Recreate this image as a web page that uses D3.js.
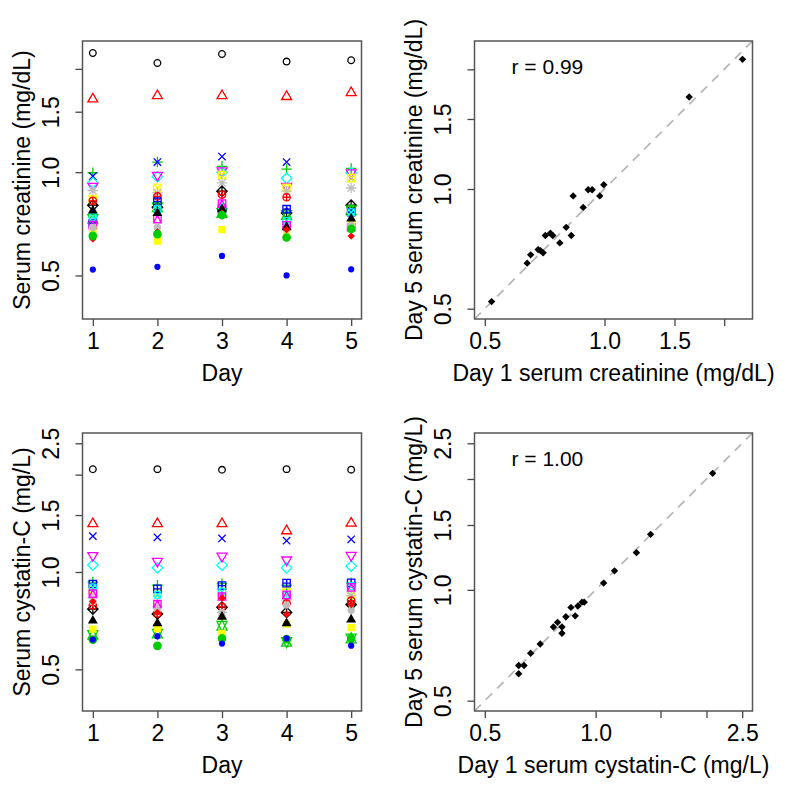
<!DOCTYPE html>
<html><head><meta charset="utf-8">
<script src="https://cdn.jsdelivr.net/npm/d3@7"></script>
<style>body{margin:0;background:#fff}svg{display:block}text{font-family:"Liberation Sans",Arial,sans-serif;fill:#000}</style>
</head><body>
<svg id="c" width="800" height="789"></svg>
<script>
// ---------- data ----------
const days = [1, 2, 3, 4, 5];
const palette = ["#000000", "#FF0000", "#00CD00", "#0000FF", "#00FFFF", "#FF00FF", "#FFFF00", "#BEBEBE"];
const subjectPch = [1,2,3,4,5,6,7,8,9,10,11,12,13,14,15,16,17,18,19,20];
// serum creatinine (mg/dL), subject x day 1..5
const creatinine = [
  [2.224, 2.08, 2.21, 2.10, 2.119],
  [1.633, 1.67, 1.67, 1.66, 1.704],
  [0.996, 1.07, 1.04, 1.02, 1.025],
  [0.973, 1.07, 1.11, 1.07, 0.961],
  [0.931, 0.97, 1.00, 0.96, 0.996],
  [0.910, 0.98, 1.01, 0.91, 0.996],
  [0.834, 0.90, 0.98, 0.90, 0.961],
  [0.884, 0.87, 0.93, 0.88, 0.899],
  [0.801, 0.79, 0.88, 0.76, 0.801],
  [0.825, 0.85, 0.86, 0.845, 0.764],
  [0.731, 0.79, 0.76, 0.75, 0.774],
  [0.710, 0.82, 0.78, 0.78, 0.764],
  [0.741, 0.78, 0.79, 0.72, 0.764],
  [0.701, 0.73, 0.81, 0.70, 0.691],
  [0.681, 0.63, 0.68, 0.66, 0.704],
  [0.690, 0.69, 0.75, 0.68, 0.700],
  [0.772, 0.76, 0.78, 0.69, 0.732],
  [0.639, 0.67, 0.76, 0.68, 0.651],
  [0.652, 0.66, 0.75, 0.645, 0.683],
  [0.520, 0.53, 0.57, 0.50, 0.521]
];
// serum cystatin-C (mg/L), subject x day 1..5
const cystatin = [
  [2.078, 2.08, 2.07, 2.08, 2.072],
  [1.410, 1.41, 1.41, 1.34, 1.415],
  [0.931, 0.91, 0.92, 0.91, 0.926],
  [1.291, 1.28, 1.27, 1.25, 1.262],
  [1.051, 1.03, 1.05, 1.03, 1.043],
  [1.125, 1.08, 1.12, 1.09, 1.126],
  [0.880, 0.86, 0.87, 0.87, 0.850],
  [0.830, 0.78, 0.75, 0.82, 0.845],
  [0.768, 0.742, 0.778, 0.75, 0.793],
  [0.788, 0.745, 0.78, 0.80, 0.816],
  [0.639, 0.645, 0.682, 0.608, 0.623],
  [0.918, 0.887, 0.908, 0.924, 0.926],
  [0.895, 0.85, 0.87, 0.85, 0.904],
  [0.857, 0.795, 0.84, 0.85, 0.896],
  [0.666, 0.669, 0.646, 0.69, 0.673],
  [0.810, 0.76, 0.75, 0.79, 0.762],
  [0.707, 0.694, 0.727, 0.694, 0.713],
  [0.810, 0.75, 0.83, 0.74, 0.793],
  [0.618, 0.591, 0.623, 0.62, 0.623],
  [0.618, 0.633, 0.601, 0.623, 0.592]
];
const creatTicks = [0.5, 1.0, 1.5, 2.0];
const creatTickLabels = ["0.5", "1.0", "1.5", ""];
const cysTicks = [0.5, 1.0, 1.5, 2.0, 2.5];
const cysTickLabels = ["0.5", "1.0", "1.5", "", "2.5"];
const cysXTickLabels = ["0.5", "1.0", "", "", "2.5"];
const rLabels = ["r = 0.99", "r = 1.00"];
const titles = {
  tlY: "Serum creatinine (mg/dL)", tlX: "Day",
  trY: "Day 5 serum creatinine (mg/dL)", trX: "Day 1 serum creatinine (mg/dL)",
  blY: "Serum cystatin-C (mg/L)", blX: "Day",
  brY: "Day 5 serum cystatin-C (mg/L)", brX: "Day 1 serum cystatin-C (mg/L)"
};

// ---------- helpers ----------
const svg = d3.select("#c");
const FS = 23;
function logExt(lo, hi) { const a = Math.log(lo), b = Math.log(hi), e = (b - a) * 0.04; return [Math.exp(a - e), Math.exp(b + e)]; }
const R = 3.7;
function circ(r) { return `M${r},0A${r},${r} 0 1,1 ${-r},0A${r},${r} 0 1,1 ${r},0Z`; }
function sq(h) { return `M${-h},${-h}H${h}V${h}H${-h}Z`; }
function plus(h) { return `M${-h},0H${h}M0,${-h}V${h}`; }
function cross(h) { return `M${-h},${-h}L${h},${h}M${-h},${h}L${h},${-h}`; }
function diam(h) { return `M0,${-h}L${h},0L0,${h}L${-h},0Z`; }
function triUp(r) { const t = 1.55512030 * r, b = 0.77756015 * r, w = 1.34677368 * r; return `M0,${-t}L${w},${b}L${-w},${b}Z`; }
function triDn(r) { const t = 1.55512030 * r, b = 0.77756015 * r, w = 1.34677368 * r; return `M0,${t}L${w},${-b}L${-w},${-b}Z`; }
function symbol(pch, col) {
  const r = R;
  switch (pch) {
    case 1: return {d: circ(r * 0.9), f: "none", s: col};
    case 2: return {d: triUp(r), f: "none", s: col};
    case 3: return {d: plus(Math.SQRT2 * r), f: "none", s: col};
    case 4: return {d: cross(r), f: "none", s: col};
    case 5: return {d: diam(Math.SQRT2 * r), f: "none", s: col};
    case 6: return {d: triDn(r), f: "none", s: col};
    case 7: return {d: sq(r) + cross(r), f: "none", s: col};
    case 8: return {d: cross(r) + plus(Math.SQRT2 * r), f: "none", s: col};
    case 9: return {d: diam(Math.SQRT2 * r) + plus(Math.SQRT2 * r), f: "none", s: col};
    case 10: return {d: circ(r) + plus(r), f: "none", s: col};
    case 11: {
      const rr = 1.55512030 * r, yc0 = 0.77756015 * r, yc = 0.5 * (yc0 + rr), xc = 1.34677368 * r;
      return {d: `M0,${-rr}L${xc},${yc}L${-xc},${yc}ZM0,${rr}L${xc},${-yc}L${-xc},${-yc}Z`, f: "none", s: col};
    }
    case 12: return {d: sq(r) + plus(r), f: "none", s: col};
    case 13: return {d: circ(r) + cross(r), f: "none", s: col};
    case 14: return {d: sq(r) + `M0,${-r}L${r},${r}L${-r},${r}Z`, f: "none", s: col};
    case 15: return {d: sq(r), f: col, s: "none"};
    case 16: return {d: circ(r), f: col, s: "none"};
    case 17: return {d: triUp(r), f: col, s: "none"};
    case 18: return {d: diam(r), f: col, s: "none"};
    case 19: return {d: circ(r), f: col, s: col};
    case 20: return {d: circ(r * 2 / 3), f: col, s: col};
  }
}

function panel(o) {
  const g = svg.append("g");
  const [x0, x1] = o.x.range(), [y1, y0] = o.y.range();
  const cid = "clip" + o.id;
  svg.append("clipPath").attr("id", cid).append("rect").attr("x", x0).attr("y", y0).attr("width", x1 - x0).attr("height", y1 - y0);
  // x axis
  const ax = g.append("g").attr("transform", `translate(0,${y1})`)
    .call(d3.axisBottom(o.x).tickValues(o.xTicks).tickFormat((d, i) => o.xLabels[i]).tickSize(7).tickPadding(7));
  ax.select(".domain").remove();
  ax.selectAll("line").attr("stroke", "#444").attr("stroke-width", 1.3);
  ax.selectAll("text").attr("font-size", FS).attr("fill", "#000").style("font-family", '"Liberation Sans", Arial, sans-serif');
  // y axis
  const ay = g.append("g").attr("transform", `translate(${x0},0)`)
    .call(d3.axisLeft(o.y).tickValues(o.yTicks).tickFormat((d, i) => o.yLabels[i]).tickSize(7));
  ay.select(".domain").remove();
  ay.selectAll("line").attr("stroke", "#444").attr("stroke-width", 1.3);
  ay.selectAll("text").attr("x", null).attr("dy", null).attr("y", null)
    .attr("transform", "translate(-24,0) rotate(-90)").attr("text-anchor", "middle")
    .attr("font-size", FS).attr("fill", "#000").style("font-family", '"Liberation Sans", Arial, sans-serif');
  // titles
  g.append("text").attr("x", (x0 + x1) / 2).attr("y", y1 + 62).attr("text-anchor", "middle").attr("font-size", FS).text(o.xTitle);
  g.append("text").attr("transform", `translate(${x0 - 53},${(y0 + y1) / 2}) rotate(-90)`).attr("text-anchor", "middle").attr("font-size", FS).text(o.yTitle);
  const plot = g.append("g").attr("clip-path", `url(#${cid})`);
  o.draw(plot);
  g.append("rect").attr("x", x0).attr("y", y0).attr("width", x1 - x0).attr("height", y1 - y0)
    .attr("fill", "none").attr("stroke", "#555").attr("stroke-width", 1.5);
}

function dotPanel(plot, x, y, data) {
  data.forEach((row, i) => {
    const sym = symbol(subjectPch[i], palette[i % 8]);
    plot.selectAll(null).data(days).join("path")
      .attr("transform", (d, j) => `translate(${x(d)},${y(row[j])})`)
      .attr("d", sym.d).attr("fill", sym.f).attr("stroke", sym.s).attr("stroke-width", 1.3);
  });
}
function scatterPanel(plot, x, y, data, lab) {
  const dom = x.domain();
  plot.append("line").attr("x1", x(dom[0])).attr("y1", y(dom[0])).attr("x2", x(dom[1])).attr("y2", y(dom[1]))
    .attr("stroke", "#b8b8b8").attr("stroke-width", 1.8).attr("stroke-dasharray", "9,7");
  const sym = symbol(18, "#000");
  plot.selectAll(null).data(data).join("path")
    .attr("transform", d => `translate(${x(d[0])},${y(d[4])})`)
    .attr("d", sym.d).attr("fill", "#000");
  const [x0] = x.range(), [, y0] = y.range();
  plot.append("text").attr("x", x0 + 37).attr("y", y0 + 33).attr("font-size", 21).text(lab);
}

const L = [82.5, 361.5], Rr = [474.5, 752.5], T = [319, 41], B = [711, 433];

const xDay1 = d3.scaleLinear().domain([0.84, 5.16]).range(L);
const yTL = d3.scaleLog().domain(logExt(0.4, 2.25)).range(T);
panel({id: "tl", x: xDay1, y: yTL, xTicks: days, xLabels: days.map(String), yTicks: creatTicks, yLabels: creatTickLabels,
  xTitle: titles.tlX, yTitle: titles.tlY, draw: p => dotPanel(p, xDay1, yTL, creatinine)});

const xTR = d3.scaleLog().domain(logExt(0.5, 2.22)).range(Rr);
const yTR = d3.scaleLog().domain(logExt(0.5, 2.22)).range(T);
panel({id: "tr", x: xTR, y: yTR, xTicks: creatTicks, xLabels: creatTickLabels, yTicks: creatTicks, yLabels: creatTickLabels,
  xTitle: titles.trX, yTitle: titles.trY, draw: p => scatterPanel(p, xTR, yTR, creatinine, rLabels[0])});

const xDay2 = d3.scaleLinear().domain([0.84, 5.16]).range(L);
const yBL = d3.scaleLog().domain(logExt(0.4, 2.5)).range(B);
panel({id: "bl", x: xDay2, y: yBL, xTicks: days, xLabels: days.map(String), yTicks: cysTicks, yLabels: cysTickLabels,
  xTitle: titles.blX, yTitle: titles.blY, draw: p => dotPanel(p, xDay2, yBL, cystatin)});

const xBR = d3.scaleLog().domain(logExt(0.5, 2.5)).range(Rr);
const yBR = d3.scaleLog().domain(logExt(0.5, 2.5)).range(B);
panel({id: "br", x: xBR, y: yBR, xTicks: cysTicks, xLabels: cysXTickLabels, yTicks: cysTicks, yLabels: cysTickLabels,
  xTitle: titles.brX, yTitle: titles.brY, draw: p => scatterPanel(p, xBR, yBR, cystatin, rLabels[1])});
</script>
</body></html>
